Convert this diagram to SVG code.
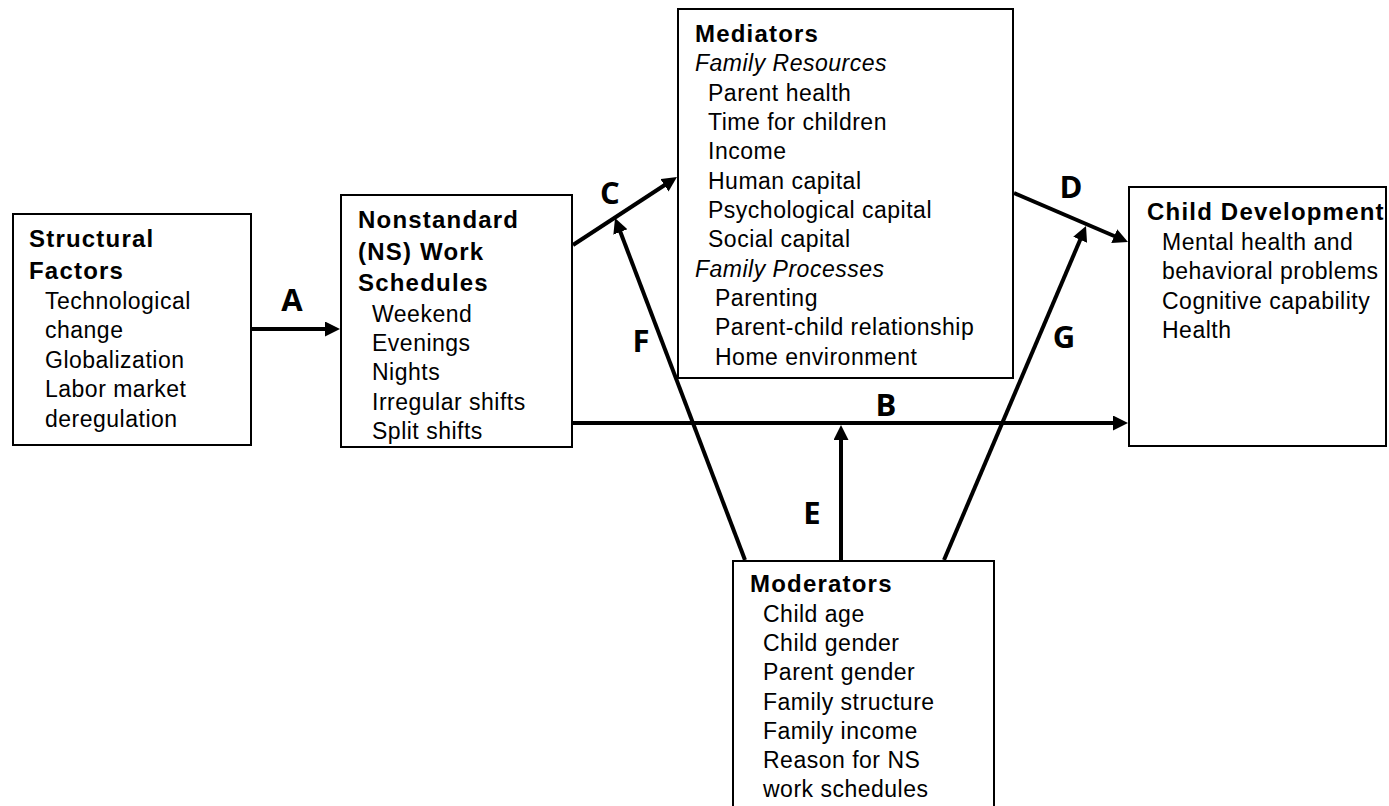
<svg xmlns="http://www.w3.org/2000/svg" width="1389" height="806" viewBox="0 0 1389 806">
<style>
.box{fill:#fff;stroke:#000;stroke-width:2}
.t{font-family:"Liberation Sans",Arial,sans-serif;font-size:23px;letter-spacing:0.5px;fill:#000}
.h{font-family:"Liberation Sans",Arial,sans-serif;font-size:24px;font-weight:bold;letter-spacing:1.2px;fill:#000}
.i{font-style:italic}
.lbl{font-family:"Open Sans","Liberation Sans",sans-serif;font-size:31px;font-weight:bold;fill:#000;text-anchor:middle}
.c{stroke:#000;stroke-width:4;fill:none;marker-end:url(#ah)}
</style>
<defs>
<marker id="ah" markerUnits="userSpaceOnUse" markerWidth="16" markerHeight="16" refX="5" refY="7.5" orient="auto">
<path d="M0,0 L15,7.5 L0,15 Z" fill="#000"/>
</marker>
</defs>
<rect width="1389" height="806" fill="#fff"/>
<g id="connectors">
<line class="c" x1="252" y1="329" x2="330" y2="329"/>
<line class="c" x1="573" y1="423" x2="1118" y2="423"/>
<line class="c" x1="573" y1="245" x2="668.6" y2="182.5"/>
<line class="c" x1="1014" y1="193" x2="1118.8" y2="238"/>
<line class="c" x1="745" y1="560" x2="618.6" y2="227.3"/>
<line class="c" x1="841" y1="560" x2="841" y2="435"/>
<line class="c" x1="944" y1="560" x2="1082.1" y2="235.2"/>
<text class="lbl" x="292" y="311">A</text>
<text class="lbl" x="886" y="416">B</text>
<text class="lbl" x="610" y="204">C</text>
<text class="lbl" x="1071" y="198">D</text>
<text class="lbl" x="812" y="524">E</text>
<text class="lbl" x="641" y="352">F</text>
<text class="lbl" x="1064" y="348">G</text>
</g>
<g id="structural">
<rect class="box" x="13" y="214" width="238" height="231"/>
<text class="h" x="29" y="247">Structural</text>
<text class="h" x="29" y="279">Factors</text>
<text class="t" x="45" y="309">Technological</text>
<text class="t" x="45" y="338">change</text>
<text class="t" x="45" y="368">Globalization</text>
<text class="t" x="45" y="397">Labor market</text>
<text class="t" x="45" y="427">deregulation</text>
</g>
<g id="ns">
<rect class="box" x="341" y="195" width="231" height="252"/>
<text class="h" x="358" y="228">Nonstandard</text>
<text class="h" x="358" y="260">(NS) Work</text>
<text class="h" x="358" y="291">Schedules</text>
<text class="t" x="372" y="322">Weekend</text>
<text class="t" x="372" y="351">Evenings</text>
<text class="t" x="372" y="380">Nights</text>
<text class="t" x="372" y="410">Irregular shifts</text>
<text class="t" x="372" y="439">Split shifts</text>
</g>
<g id="mediators">
<rect class="box" x="678" y="9" width="335" height="369"/>
<text class="h" x="695" y="42">Mediators</text>
<text class="t i" x="695" y="71">Family Resources</text>
<text class="t" x="708" y="101">Parent health</text>
<text class="t" x="708" y="130">Time for children</text>
<text class="t" x="708" y="159">Income</text>
<text class="t" x="708" y="189">Human capital</text>
<text class="t" x="708" y="218">Psychological capital</text>
<text class="t" x="708" y="247">Social capital</text>
<text class="t i" x="695" y="277">Family Processes</text>
<text class="t" x="715" y="306">Parenting</text>
<text class="t" x="715" y="335">Parent-child relationship</text>
<text class="t" x="715" y="365">Home environment</text>
</g>
<g id="child">
<rect class="box" x="1129" y="187" width="257" height="259"/>
<text class="h" x="1147" y="220">Child Development</text>
<text class="t" x="1162" y="250">Mental health and</text>
<text class="t" x="1162" y="279">behavioral problems</text>
<text class="t" x="1162" y="309">Cognitive capability</text>
<text class="t" x="1162" y="338">Health</text>
</g>
<g id="moderators">
<rect class="box" x="733" y="561" width="261" height="260"/>
<text class="h" x="750" y="592">Moderators</text>
<text class="t" x="763" y="622">Child age</text>
<text class="t" x="763" y="651">Child gender</text>
<text class="t" x="763" y="680">Parent gender</text>
<text class="t" x="763" y="710">Family structure</text>
<text class="t" x="763" y="739">Family income</text>
<text class="t" x="763" y="768">Reason for NS</text>
<text class="t" x="763" y="797">work schedules</text>
</g>
</svg>
